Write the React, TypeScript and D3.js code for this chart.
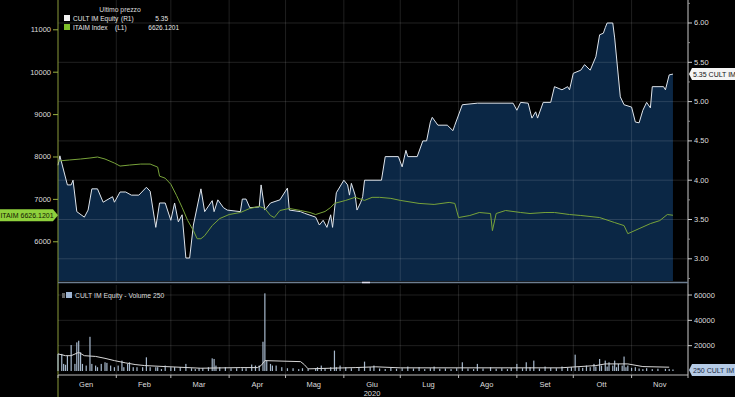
import React from 'react';
import * as d3 from 'd3';

// day offsets from 1 Jan 2020
const cultDays = [0, 1, 5, 7, 8, 10, 14, 16, 18, 21, 24, 29, 30, 33, 36, 39, 43, 47, 49, 52, 54, 57, 60, 62, 64, 66, 68, 70, 72, 76, 78, 82, 83, 85, 88, 90, 97, 98, 100, 102, 107, 108, 110, 113, 118, 122, 123, 129, 131, 137, 139, 141, 143, 145, 146, 148, 152, 154, 155, 156, 158, 159, 161, 162, 163, 172, 174, 181, 183, 185, 186, 191, 194, 196, 198, 199, 202, 207, 210, 211, 215, 223, 242, 244, 246, 250, 252, 254, 255, 258, 262, 264, 268, 271, 272, 274, 278, 280, 283, 286, 288, 290, 291, 292, 295, 296, 299, 301, 305, 307, 309, 311, 313, 315, 316, 322, 323, 325, 327];
const cultPrice = [4.19, 4.31, 3.94, 3.94, 4.0, 3.6, 3.53, 3.62, 3.89, 3.89, 3.72, 3.79, 3.72, 3.85, 3.85, 3.81, 3.81, 3.91, 3.86, 3.4, 3.71, 3.71, 3.49, 3.71, 3.47, 3.56, 3.01, 3.01, 3.43, 3.89, 3.6, 3.74, 3.6, 3.75, 3.65, 3.62, 3.6, 3.76, 3.76, 3.65, 3.66, 3.94, 3.62, 3.71, 3.75, 3.9, 3.62, 3.6, 3.58, 3.53, 3.43, 3.49, 3.4, 3.56, 3.4, 3.84, 4.0, 3.94, 3.81, 3.96, 3.81, 3.62, 3.72, 3.79, 4.0, 4.0, 4.3, 4.3, 4.17, 4.38, 4.3, 4.3, 4.5, 4.5, 4.74, 4.8, 4.7, 4.7, 4.63, 4.7, 4.96, 4.98, 4.98, 4.89, 4.99, 4.98, 4.79, 4.87, 4.79, 4.99, 4.99, 5.19, 5.15, 5.19, 5.15, 5.36, 5.4, 5.47, 5.4, 5.57, 5.85, 5.87, 5.94, 6.0, 6.0, 5.81, 5.06, 4.96, 4.93, 4.74, 4.73, 4.89, 4.99, 4.92, 5.19, 5.19, 5.15, 5.34, 5.35];

const itaimDays = [0, 6, 12, 17, 21, 25, 30, 33, 38, 44, 49, 53, 54, 57, 60, 63, 66, 69, 72, 74, 76, 78, 82, 86, 91, 97, 102, 107, 110, 113, 115, 118, 123, 129, 134, 137, 142, 145, 147, 153, 158, 163, 167, 171, 177, 182, 192, 200, 208, 211, 213, 219, 224, 230, 231, 233, 238, 246, 251, 259, 264, 272, 278, 288, 296, 301, 303, 309, 315, 320, 324, 327];
const itaimValue = [7905, 7929, 7952, 7976, 8000, 7952, 7857, 7786, 7810, 7833, 7833, 7762, 7548, 7500, 7357, 7096, 6810, 6500, 6263, 6072, 6072, 6144, 6382, 6548, 6643, 6691, 6786, 6833, 6786, 6620, 6572, 6738, 6786, 6738, 6691, 6643, 6715, 6810, 6905, 6976, 7048, 6976, 7048, 7048, 7024, 6976, 6905, 6881, 6929, 6905, 6572, 6620, 6691, 6667, 6263, 6667, 6738, 6691, 6667, 6691, 6691, 6643, 6620, 6572, 6453, 6382, 6191, 6310, 6429, 6500, 6643, 6626.1201];

const volDays = [0, 2, 3, 4, 5, 7, 9, 10, 11, 12, 13, 15, 17, 18, 20, 21, 23, 25, 26, 28, 30, 32, 34, 35, 37, 38, 40, 42, 45, 47, 49, 52, 53, 55, 57, 60, 62, 65, 68, 71, 73, 75, 77, 80, 82, 83, 84, 86, 89, 92, 95, 98, 100, 103, 105, 107, 109, 110, 111, 113, 114, 116, 119, 122, 125, 128, 130, 133, 137, 138, 140, 142, 145, 147, 148, 150, 153, 156, 160, 163, 166, 168, 171, 174, 177, 180, 183, 186, 189, 192, 195, 198, 200, 203, 206, 209, 212, 215, 218, 221, 223, 226, 230, 233, 236, 239, 241, 244, 247, 249, 251, 253, 256, 259, 262, 265, 268, 271, 273, 275, 277, 279, 281, 283, 285, 286, 288, 289, 291, 292, 293, 295, 296, 297, 298, 300, 301, 302, 303, 305, 307, 309, 311, 313, 316, 319, 323, 325, 327];
const volValue = [13500, 13500, 5600, 4900, 12100, 20500, 5600, 22600, 23900, 14800, 5600, 4300, 27000, 5600, 4300, 3000, 5600, 6900, 6400, 4300, 3000, 4300, 8200, 3000, 5600, 6900, 3000, 3000, 3000, 10800, 3000, 3000, 3000, 1500, 4300, 3000, 3000, 3000, 5600, 2200, 1500, 2200, 2200, 3000, 10000, 9500, 4300, 3000, 3000, 2200, 2200, 2200, 2200, 5100, 4300, 4300, 23100, 61300, 8200, 5600, 4300, 4300, 3000, 2200, 2200, 1500, 2200, 1700, 2200, 3000, 4300, 2200, 3000, 16100, 3000, 4300, 3000, 2200, 3000, 7400, 3000, 4300, 2000, 1500, 2500, 1800, 2200, 3500, 2000, 3000, 1500, 2200, 3500, 1800, 2000, 1500, 2200, 6900, 2000, 1500, 5600, 2000, 3000, 1800, 2200, 1500, 2500, 5600, 2200, 6900, 3000, 8200, 2000, 3500, 2500, 2200, 3500, 2500, 3000, 12900, 3000, 2500, 4300, 3000, 5600, 3500, 9500, 4300, 8200, 3500, 6900, 4300, 8200, 3000, 5600, 4300, 11400, 3000, 4300, 2500, 3000, 2000, 1500, 2200, 1500, 1800, 1700, 1500, 1200];

const maDays = [0, 4, 7, 11, 14, 20, 25, 30, 36, 41, 46, 57, 76, 97, 106, 108, 110, 129, 131, 133, 145, 158, 169, 182, 267, 286, 291, 303, 311, 325];
const maValue = [13500, 12100, 12100, 14700, 12100, 11500, 10000, 8200, 6400, 5100, 4300, 3500, 2200, 2700, 2700, 4300, 8200, 7400, 5000, 1700, 2200, 2700, 3300, 2500, 2500, 4300, 5600, 5600, 3500, 3000];

const months = ['Gen', 'Feb', 'Mar', 'Apr', 'Mag', 'Giu', 'Lug', 'Ago', 'Set', 'Ott', 'Nov'];
const leftTicks = [6000, 7000, 8000, 9000, 10000, 11000];
const rightTicks = [3.0, 3.5, 4.0, 4.5, 5.0, 5.5, 6.0];
const volTicks = [20000, 40000, 60000];
const lastCultLabel = '5.35';
const lastItaimLabel = '6626.1201';
const lastVolume = 250;

const W = 735, H = 397;
const X0 = 58, X1 = 688;
const MAIN_TOP = 0, MAIN_BOT = 281;
const VOL_BOT = 371;
const AXIS_Y = 375;
const FONT = '"Liberation Sans", Arial, sans-serif';

const day = (d: number) => new Date(2020, 0, 1 + d);

export default function App() {
  const x = d3.scaleTime().domain([new Date(2020, 0, 1), new Date(2020, 11, 1)]).range([X0, X1]);
  const yL = d3.scaleLinear().domain([5075, 11703]).range([MAIN_BOT, MAIN_TOP]);
  const yR = d3.scaleLinear().domain([2.7176, 6.2926]).range([MAIN_BOT, MAIN_TOP]);
  const yV = d3.scaleLinear().domain([0, 60000]).range([VOL_BOT, 295]);

  const cult = cultDays.map((d, i) => ({ t: day(d), v: cultPrice[i] }));
  const itaim = itaimDays.map((d, i) => ({ t: day(d), v: itaimValue[i] }));
  const ma = maDays.map((d, i) => ({ t: day(d), v: maValue[i] }));

  const area = d3.area<{ t: Date; v: number }>().x(d => x(d.t)).y0(MAIN_BOT).y1(d => yR(d.v));
  const cultLine = d3.line<{ t: Date; v: number }>().x(d => x(d.t)).y(d => yR(d.v));
  const itaimLine = d3.line<{ t: Date; v: number }>().x(d => x(d.t)).y(d => yL(d.v));
  const maLine = d3.line<{ t: Date; v: number }>().x(d => x(d.t)).y(d => yV(d.v));

  const monthStarts = x.ticks(d3.timeMonth.every(1)!);
  const minorR = d3.range(2.75, 6.3, 0.25).filter(v => Math.abs(v * 2 - Math.round(v * 2)) > 0.01);

  const lastC = cult[cult.length - 1];
  const lastI = itaim[itaim.length - 1];

  return (
    <svg width={W} height={H} style={{ position: 'absolute', left: 0, top: 0, background: '#000' }} fontFamily={FONT}>
      <rect width={W} height={H} fill="#000" />

      {/* main panel */}
      <path d={area(cult)!} fill="#0b2745" />
      {rightTicks.map(t => (
        <line key={'g' + t} x1={X0} x2={X1} y1={yR(t)} y2={yR(t)} stroke="#fff" strokeOpacity={0.13} />
      ))}
      {monthStarts.map((m, i) => i > 0 && (
        <line key={'mv' + i} x1={x(m)} x2={x(m)} y1={MAIN_TOP} y2={MAIN_BOT} stroke="#fff" strokeOpacity={0.12} />
      ))}
      <path d={cultLine(cult)!} fill="none" stroke="#dfe5ec" strokeWidth={1} />
      <path d={itaimLine(itaim)!} fill="none" stroke="#78a33a" strokeWidth={1} />

      {/* left axis */}
      <line x1={X0} x2={X0} y1={0} y2={H} stroke="#8a9a3a" />
      {leftTicks.map(t => (
        <g key={'l' + t}>
          <line x1={X0 - 5} x2={X0} y1={yL(t)} y2={yL(t)} stroke="#9ab040" />
          <text x={X0 - 7} y={yL(t) + 2.5} fontSize={7.5} fill="#ddd" textAnchor="end">{t}</text>
        </g>
      ))}

      {/* right axis */}
      <line x1={X1} x2={X1} y1={0} y2={AXIS_Y} stroke="#bbb" />
      {rightTicks.map(t => (
        <g key={'r' + t}>
          <line x1={X1} x2={X1 + 4} y1={yR(t)} y2={yR(t)} stroke="#ccc" />
          <text x={X1 + 6} y={yR(t) + 2.5} fontSize={7.5} fill="#ddd">{t.toFixed(2)}</text>
        </g>
      ))}
      {minorR.map(t => (
        <line key={'mr' + t} x1={X1} x2={X1 + 2} y1={yR(t)} y2={yR(t)} stroke="#888" />
      ))}

      {/* legend */}
      <text x={120} y={12} fontSize={6.8} fill="#ddd" textAnchor="middle">Ultimo prezzo</text>
      <rect x={64} y={15} width={6} height={6} fill="#f2f2f2" />
      <text x={73} y={21} fontSize={6.5} fill="#e6e6e6">CULT IM Equity</text>
      <text x={121} y={21} fontSize={6.5} fill="#e6e6e6">(R1)</text>
      <text x={168} y={21} fontSize={6.5} fill="#e6e6e6" textAnchor="end">{lastCultLabel}</text>
      <rect x={64} y={24} width={6} height={6} fill="#7fbf2a" />
      <text x={73} y={30} fontSize={6.5} fill="#e6e6e6">ITAIM Index</text>
      <text x={115} y={30} fontSize={6.5} fill="#e6e6e6">(L1)</text>
      <text x={179} y={30} fontSize={6.5} fill="#e6e6e6" textAnchor="end">{lastItaimLabel}</text>

      {/* last value tags */}
      <g>
        <path d={`M0,${yL(lastI.v) - 6} H53 L${X0},${yL(lastI.v)} L53,${yL(lastI.v) + 6} H0 Z`} fill="#8fd13c" />
        <text x={27} y={yL(lastI.v) + 2.5} fontSize={7} fill="#142000" textAnchor="middle">ITAIM {lastItaimLabel}</text>
      </g>
      <g>
        <path d={`M${X1 + 1},${yR(lastC.v)} L${X1 + 4},${yR(lastC.v) - 6} H${W} V${yR(lastC.v) + 6} H${X1 + 4} Z`} fill="#f4f4f4" />
        <text x={X1 + 5} y={yR(lastC.v) + 2.5} fontSize={7} fill="#111">{lastCultLabel} CULT IM</text>
      </g>

      {/* panel separator */}
      <line x1={X0} x2={X1} y1={282.5} y2={282.5} stroke="#6d7e90" strokeWidth={1.5} />
      <line x1={362} x2={370} y1={282.5} y2={282.5} stroke="#dde" strokeWidth={1.5} />

      {/* volume panel */}
      {volTicks.map(t => (
        <g key={'v' + t}>
          <line x1={X0} x2={X1} y1={yV(t)} y2={yV(t)} stroke="#fff" strokeOpacity={0.12} />
          <line x1={X1} x2={X1 + 4} y1={yV(t)} y2={yV(t)} stroke="#ccc" />
          <text x={X1 + 6} y={yV(t) + 2.5} fontSize={7.5} fill="#ddd">{t}</text>
        </g>
      ))}
      {monthStarts.map((m, i) => i > 0 && (
        <line key={'vv' + i} x1={x(m)} x2={x(m)} y1={285} y2={AXIS_Y} stroke="#fff" strokeOpacity={0.12} />
      ))}
      {volDays.map((d, i) => (
        <rect key={'b' + i} x={x(day(d)) - 0.6} y={yV(volValue[i])} width={1.2} height={VOL_BOT - yV(volValue[i])} fill="#a6b8cc" />
      ))}
      <path d={maLine(ma)!} fill="none" stroke="#d8d8d8" strokeWidth={1} />
      <rect x={62} y={293} width={3} height={5} fill="#666" />
      <rect x={66} y={292} width={6} height={6} fill="#9fb6d4" />
      <text x={75} y={298} fontSize={6.8} fill="#ddd">CULT IM Equity - Volume 250</text>
      <g>
        <path d={`M${X1 + 1},${370} L${X1 + 4},${364} H${W} V${376} H${X1 + 4} Z`} fill="#b5cbe6" />
        <text x={X1 + 5} y={372.5} fontSize={7} fill="#1a2a44">{lastVolume} CULT IM</text>
      </g>

      {/* time axis */}
      <line x1={X0} x2={X1} y1={AXIS_Y} y2={AXIS_Y} stroke="#bbb" />
      {monthStarts.map((m, i) => (
        <line key={'t' + i} x1={x(m)} x2={x(m)} y1={AXIS_Y} y2={AXIS_Y + 3} stroke="#bbb" />
      ))}
      {months.map((name, i) => {
        const mid = new Date(2020, i, 16);
        return <text key={name} x={x(mid)} y={387} fontSize={7.5} fill="#ddd" textAnchor="middle">{name}</text>;
      })}
      <text x={x(new Date(2020, 5, 16))} y={396} fontSize={7.5} fill="#ddd" textAnchor="middle">2020</text>
    </svg>
  );
}
